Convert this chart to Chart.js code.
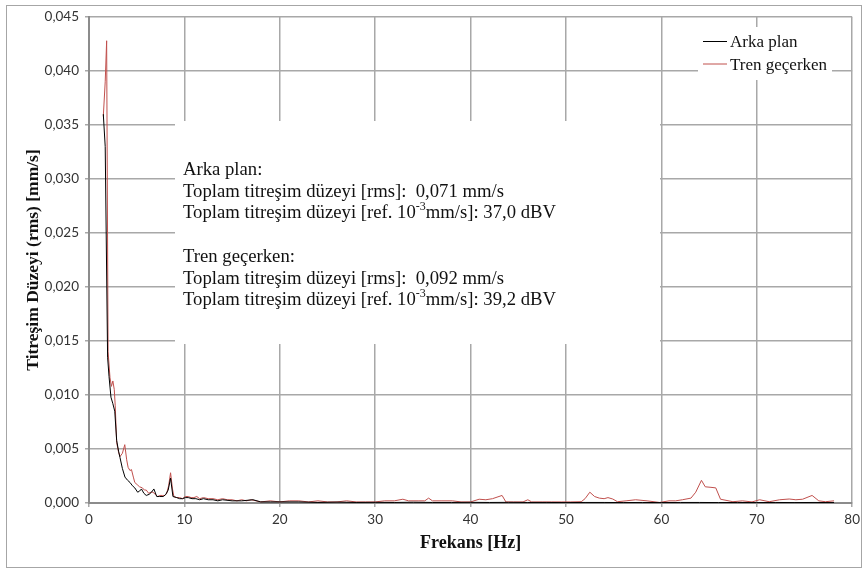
<!DOCTYPE html>
<html>
<head>
<meta charset="utf-8">
<script src="https://cdn.jsdelivr.net/npm/chart.js@4.4.0/dist/chart.umd.min.js"></script>
<style>
  html, body { margin: 0; padding: 0; background: #fff; }
  #wrap { width: 865px; height: 570px; position: relative; }
</style>
</head>
<body>
<div id="wrap"><canvas id="c" width="865" height="570"></canvas></div>
<script>
// Tren geçerken (kırmızı) — frekans [Hz] ve düzey [mm/s]
const trenHz = [1.5, 1.7, 1.85, 2.0, 2.2, 2.35, 2.5, 2.65, 2.75, 2.9, 3.1, 3.25, 3.5, 3.75, 3.95, 4.1, 4.3, 4.45, 4.65, 4.8,
  5.05, 5.3, 5.6, 5.8, 6.0, 6.25, 6.5, 6.7, 6.95, 7.2, 7.45, 7.7, 7.95, 8.15, 8.35, 8.55, 8.75, 8.9, 9.2, 9.5,
  9.8, 10.1, 10.4, 10.7, 11.0, 11.3, 11.6, 12.0, 12.5, 13.0, 13.5, 14.0, 14.5, 15.0, 15.5, 16.0, 16.5, 17.0, 17.5, 18.0,
  19.0, 20.0, 21.0, 22.0, 23.0, 24.0, 25.0, 26.0, 27.0, 28.0, 29.0, 30.0, 31.0, 32.0, 32.9, 33.5, 34.5, 35.2, 35.6, 36.0,
  37.0, 38.1, 39.0, 40.0, 40.9, 41.6, 42.3, 43.3, 43.7, 44.5, 45.5, 46.0, 46.4, 47.5, 48.5, 49.5, 50.5, 51.6, 52.0, 52.5,
  53.0, 53.5, 54.0, 54.4, 54.9, 55.4, 56.3, 57.3, 58.5, 59.8, 60.8, 61.5, 62.2, 63.1, 63.6, 64.2, 64.6, 65.2, 65.7, 66.2,
  67.5, 68.5, 69.5, 70.3, 71.3, 72.4, 73.4, 74.1, 74.8, 75.8, 76.5, 77.2, 78.1];
const trenVal = [0.0358, 0.0390, 0.0428, 0.0140, 0.0116, 0.0108, 0.0113, 0.0105, 0.0090, 0.0056, 0.0047, 0.0043, 0.0046, 0.0054, 0.0040, 0.0033, 0.0030, 0.0031, 0.0024, 0.0019,
  0.0017, 0.0015, 0.0014, 0.0012, 0.0012, 0.0009, 0.0010, 0.0010, 0.0008, 0.0006, 0.0007, 0.0007, 0.0007, 0.0009, 0.0016, 0.0028, 0.0013, 0.0006, 0.0005, 0.0005,
  0.0004, 0.0006, 0.0006, 0.0005, 0.0005, 0.0006, 0.0004, 0.0005, 0.0004, 0.0004, 0.0003, 0.0004, 0.0003, 0.0003, 0.0002, 0.0003, 0.0002, 0.0003, 0.0002, 0.0001,
  0.0002, 0.0001, 0.0002, 0.0002, 0.0001, 0.0002, 0.0001, 0.0001, 0.0002, 0.0001, 0.0001, 0.0001, 0.0002, 0.0002, 0.00035, 0.0002, 0.0002, 0.0002, 0.00045, 0.0002,
  0.0002, 0.0002, 0.0001, 0.0001, 0.00035, 0.0003, 0.0004, 0.0007, 0.0001, 0.0001, 0.0001, 0.0003, 0.0001, 0.0001, 0.0001, 0.0001, 0.0001, 0.00012, 0.0004, 0.0010,
  0.0006, 0.00045, 0.0004, 0.0005, 0.00037, 0.00012, 0.0002, 0.0003, 0.0002, 0.00005, 0.0002, 0.0002, 0.0003, 0.00045, 0.0010, 0.0021, 0.0015, 0.00145, 0.0014, 0.00035,
  0.00012, 0.0002, 0.0001, 0.0003, 0.00012, 0.0003, 0.00037, 0.0003, 0.00035, 0.0007, 0.0002, 0.00012, 0.0002];

// Arka plan (siyah)
const arkaHz = [1.5, 1.7, 1.95, 2.1, 2.3, 2.5, 2.7, 2.9, 3.1, 3.25, 3.5, 3.77, 4.05, 4.3, 4.55, 4.8, 5.1, 5.3, 5.5, 5.75,
  6.0, 6.3, 6.55, 6.8, 7.1, 7.4, 7.8, 8.05, 8.3, 8.55, 8.8, 9.2, 9.5, 9.8, 10.1, 10.4, 10.8, 11.2, 11.6, 12.0,
  12.5, 13.0, 13.5, 14.0, 15.0, 16.0, 17.2, 18.0, 19.0, 20.0, 22.0, 24.0, 26.0, 28.0, 30.0, 32.0, 34.0, 36.0, 38.0, 40.0,
  42.0, 44.0, 46.0, 48.0, 50.0, 52.0, 54.0, 56.0, 58.0, 60.0, 62.0, 64.0, 66.0, 68.0, 70.0, 72.0, 74.0, 76.0, 78.1];
const arkaVal = [0.0360, 0.0330, 0.0135, 0.0117, 0.0098, 0.0092, 0.0085, 0.0058, 0.0048, 0.0042, 0.0032, 0.0024, 0.0021, 0.0019, 0.0016, 0.0014, 0.0010, 0.0011, 0.0013, 0.0009,
  0.0007, 0.0008, 0.0010, 0.0013, 0.0006, 0.0006, 0.0006, 0.0008, 0.0012, 0.0023, 0.0006, 0.0005, 0.0004, 0.0004, 0.0005, 0.0005, 0.0004, 0.0004, 0.0003, 0.0004,
  0.0003, 0.0003, 0.0002, 0.0003, 0.0002, 0.0002, 0.0003, 0.0001, 0.0001, 0.0001, 0.0001, 0.00005, 0.00008, 0.00005, 0.00006, 0.00005, 0.00007, 0.00005, 0.00005, 0.00006,
  0.00005, 0.00006, 0.00005, 0.00005, 0.00004, 0.00005, 0.00005, 0.00004, 0.00005, 0.00004, 0.00005, 0.00005, 0.00004, 0.00005, 0.00004, 0.00005, 0.00004, 0.00005, 0.00004];

const xTicks = [0, 10, 20, 30, 40, 50, 60, 70, 80];
const seriesNames = ['Arka plan', 'Tren geçerken'];
const infoLines = [
  ['Arka plan:'],
  ['Toplam titreşim düzeyi [rms]:  0,071 mm/s'],
  ['Toplam titreşim düzeyi [ref. 10', '-3', 'mm/s]: 37,0 dBV'],
  [''],
  ['Tren geçerken:'],
  ['Toplam titreşim düzeyi [rms]:  0,092 mm/s'],
  ['Toplam titreşim düzeyi [ref. 10', '-3', 'mm/s]: 39,2 dBV']
];

const RED = '#c0504d';
const BLACK = '#000000';
const GRID = '#a8a8a8';
const SERIF = '"Liberation Serif", "Times New Roman", serif';

const toPts = (xs, ys) => xs.map((x, i) => ({ x, y: ys[i] }));

// çerçeve, bilgi kutusu ve açıklama (legend)
const decor = {
  id: 'decor',
  beforeDraw(chart) {
    const ctx = chart.ctx;
    ctx.save();
    ctx.fillStyle = '#fff';
    ctx.fillRect(0, 0, chart.width, chart.height);
    ctx.strokeStyle = '#a6a6a6';
    ctx.lineWidth = 1;
    ctx.strokeRect(6.5, 5.5, 855, 562);
    ctx.restore();
  },
  beforeDatasetsDraw(chart) {
    const ctx = chart.ctx;
    ctx.save();
    ctx.fillStyle = '#fff';
    ctx.fillRect(175, 121, 485, 223);   // bilgi kutusu
    ctx.fillRect(698, 27, 134, 53);     // legend kutusu
    ctx.restore();
  },
  afterDraw(chart) {
    const ctx = chart.ctx;
    ctx.save();
    ctx.fillStyle = '#111';
    ctx.textBaseline = 'alphabetic';
    let y = 175;
    infoLines.forEach(parts => {
      let x = 183;
      parts.forEach((p, k) => {
        if (k === 1) {
          ctx.font = '12px ' + SERIF;
          ctx.fillText(p, x, y - 8);
        } else {
          ctx.font = '18.7px ' + SERIF;
          ctx.fillText(p, x, y);
        }
        x += ctx.measureText(p).width;
      });
      y += 21.7;
    });

    // legend
    const cols = [BLACK, RED];
    ctx.font = '17px ' + SERIF;
    seriesNames.forEach((n, i) => {
      const ly = 41 + i * 22.5;
      ctx.strokeStyle = cols[i];
      ctx.lineWidth = 1;
      ctx.beginPath();
      ctx.moveTo(703, ly + 0.5);
      ctx.lineTo(727, ly + 0.5);
      ctx.stroke();
      ctx.fillStyle = '#111';
      ctx.fillText(n, 730, ly + 6);
    });
    ctx.restore();
  }
};

new Chart(document.getElementById('c').getContext('2d'), {
  type: 'line',
  data: {
    datasets: [
      { label: seriesNames[0], data: toPts(arkaHz, arkaVal), borderColor: BLACK, borderWidth: 1, pointRadius: 0, tension: 0 },
      { label: seriesNames[1], data: toPts(trenHz, trenVal), borderColor: RED, borderWidth: 1, pointRadius: 0, tension: 0 }
    ]
  },
  options: {
    responsive: false,
    animation: false,
    devicePixelRatio: 1,
    layout: { padding: { top: 17, right: 12, left: 0, bottom: 0 } },
    plugins: { legend: { display: false }, tooltip: { enabled: false } },
    scales: {
      x: {
        type: 'linear', min: 0, max: 80,
        afterBuildTicks: (s) => { s.ticks = xTicks.map(v => ({ value: v })); },
        afterFit: (s) => { s.height = 67; },
        ticks: { color: '#333', font: { family: 'Lato', size: 13.5 }, padding: 5 },
        grid: { color: GRID, lineWidth: 1.5, tickLength: 4 },
        border: { color: '#8c8c8c', width: 2 },
        title: { display: true, text: 'Frekans [Hz]', color: '#111', font: { family: SERIF, size: 18, weight: 'bold' }, padding: { top: 0, bottom: 16 } }
      },
      y: {
        min: 0, max: 0.045,
        ticks: { stepSize: 0.005, color: '#333', font: { family: 'Lato', size: 13.5 }, padding: 6,
                 callback: (v) => Number(v).toFixed(3).replace('.', ',') },
        afterFit: (s) => { s.width = 89; },
        grid: { color: GRID, lineWidth: 1.5, tickLength: 4 },
        border: { color: '#8c8c8c', width: 2 },
        title: { display: true, text: 'Titreşim Düzeyi (rms) [mm/s]', color: '#111', font: { family: SERIF, size: 17.5, weight: 'bold' }, padding: { top: 23, bottom: 0 } }
      }
    }
  },
  plugins: [decor]
});
</script>
</body>
</html>
